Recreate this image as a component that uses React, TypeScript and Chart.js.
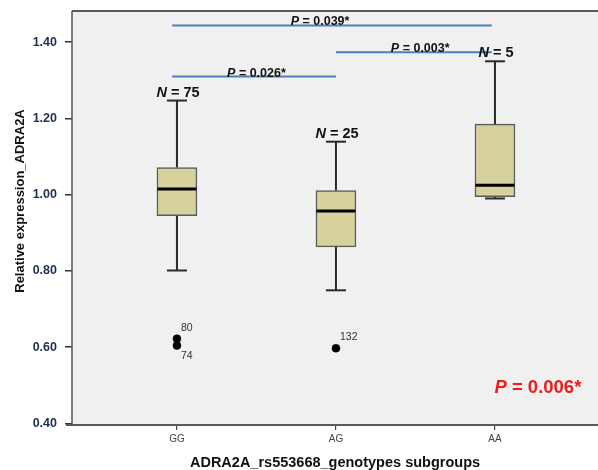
import React, { useEffect, useRef } from "react";
import { Chart, registerables } from "chart.js";

Chart.register(...registerables);

// ---- data ----
const categories = ["GG", "AG", "AA"];
const counts = [75, 25, 5];
const whiskerLow = [0.801, 0.749, 0.99];
const q1 = [0.945, 0.863, 0.995];
const median = [1.015, 0.957, 1.025];
const q3 = [1.071, 1.011, 1.185];
const whiskerHigh = [1.247, 1.139, 1.35];

const outlierGroup = [0, 0, 1];
const outlierValue = [0.622, 0.604, 0.597];
const outlierId = ["80", "74", "132"];
const outlierLabelAbove = [true, false, true];

const compareStart = [0.97, 2.0, 0.97];
const compareEnd = [2.0, 2.98, 2.98];
const compareY = [1.31, 1.374, 1.444];
const compareLabelX = [1.5, 2.53, 1.9];
const compareP = ["0.026*", "0.003*", "0.039*"];

const overallP = "0.006*";
const overallPos = { x: 3.27, y: 0.493 };

const yTicks = [0.4, 0.6, 0.8, 1.0, 1.2, 1.4];

const FONT = "'Liberation Sans', Arial, sans-serif";

function drawMixed(
  ctx: CanvasRenderingContext2D,
  parts: { text: string; italic: boolean }[],
  cx: number,
  y: number,
  size: number,
  color: string,
  baseline: CanvasTextBaseline
) {
  ctx.save();
  ctx.fillStyle = color;
  ctx.textBaseline = baseline;
  ctx.textAlign = "left";
  let total = 0;
  const widths = parts.map((p) => {
    ctx.font = `${p.italic ? "italic " : ""}bold ${size}px ${FONT}`;
    const w = ctx.measureText(p.text).width;
    total += w;
    return w;
  });
  let x = cx - total / 2;
  parts.forEach((p, i) => {
    ctx.font = `${p.italic ? "italic " : ""}bold ${size}px ${FONT}`;
    ctx.fillText(p.text, x, y);
    x += widths[i];
  });
  ctx.restore();
}

const decorPlugin = {
  id: "decor",
  beforeDraw(chart: any) {
    const { ctx, chartArea: a } = chart;
    ctx.save();
    ctx.fillStyle = "#f0f0f0";
    ctx.fillRect(a.left, a.top, a.right - a.left, a.bottom - a.top);
    ctx.restore();
  },
  afterDatasetsDraw(chart: any) {
    const { ctx } = chart;
    const xs = chart.scales.x;
    const ys = chart.scales.y;
    // N labels
    categories.forEach((_, i) => {
      const px = xs.getPixelForValue(i + 1);
      const py = ys.getPixelForValue(whiskerHigh[i]) - 4;
      drawMixed(
        ctx,
        [
          { text: "N", italic: true },
          { text: ` = ${counts[i]}`, italic: false },
        ],
        px + 1,
        py,
        14.5,
        "#111",
        "alphabetic"
      );
    });
    // comparison labels
    compareP.forEach((p, i) => {
      const px = xs.getPixelForValue(compareLabelX[i]);
      const py = ys.getPixelForValue(compareY[i]);
      drawMixed(
        ctx,
        [
          { text: "P", italic: true },
          { text: ` = ${p}`, italic: false },
        ],
        px,
        py,
        12.5,
        "#111",
        "alphabetic"
      );
    });
    // overall P
    drawMixed(
      ctx,
      [
        { text: "P", italic: true },
        { text: ` = ${overallP}`, italic: false },
      ],
      xs.getPixelForValue(overallPos.x),
      ys.getPixelForValue(overallPos.y),
      18.5,
      "#f21a1a",
      "middle"
    );
    // outlier ids
    ctx.save();
    ctx.font = `10.5px ${FONT}`;
    ctx.fillStyle = "#333";
    ctx.textAlign = "left";
    ctx.textBaseline = "middle";
    outlierId.forEach((id, i) => {
      const px = xs.getPixelForValue(outlierGroup[i] + 1);
      const py = ys.getPixelForValue(outlierValue[i]);
      ctx.fillText(id, px + 4, py + (outlierLabelAbove[i] ? -11 : 11));
    });
    ctx.restore();
    // y title
    ctx.save();
    ctx.translate(20, 201);
    ctx.rotate(-Math.PI / 2);
    ctx.font = `bold 13px ${FONT}`;
    ctx.fillStyle = "#111";
    ctx.textAlign = "center";
    ctx.textBaseline = "middle";
    ctx.fillText("Relative expression_ADRA2A", 0, 0);
    ctx.restore();
  },
  afterDraw(chart: any) {
    const { ctx, chartArea: a } = chart;
    ctx.save();
    ctx.strokeStyle = "#5a5a5a";
    ctx.lineWidth = 2;
    ctx.beginPath();
    ctx.moveTo(a.left, a.top);
    ctx.lineTo(a.right, a.top);
    ctx.moveTo(a.left - 6, a.bottom);
    ctx.lineTo(a.right, a.bottom);
    ctx.stroke();
    ctx.lineWidth = 1.5;
    ctx.strokeStyle = "#555";
    ctx.beginPath();
    ctx.moveTo(a.left, a.top);
    ctx.lineTo(a.left, a.bottom);
    ctx.stroke();
    ctx.restore();
  },
};

export default function App() {
  const ref = useRef<HTMLCanvasElement>(null);
  useEffect(() => {
    document.body.style.margin = "0";
    if (!ref.current) return;

    const whiskerPts: any[] = [];
    categories.forEach((_, i) => {
      whiskerPts.push({ x: i + 1, y: q3[i] }, { x: i + 1, y: whiskerHigh[i] }, { x: i + 1, y: null });
      whiskerPts.push({ x: i + 1, y: whiskerLow[i] }, { x: i + 1, y: q1[i] }, { x: i + 1, y: null });
    });
    const capPts: any[] = [];
    categories.forEach((_, i) => {
      capPts.push({ x: i + 1, y: whiskerHigh[i] }, { x: i + 1, y: whiskerLow[i] });
    });
    const compPts: any[] = [];
    compareY.forEach((y, i) => {
      compPts.push({ x: compareStart[i], y }, { x: compareEnd[i], y }, { x: compareEnd[i], y: null });
    });

    const chart = new Chart(ref.current, {
      type: "bar",
      data: {
        datasets: [
          {
            type: "scatter",
            data: median.map((m, i) => ({ x: i + 1, y: m })),
            pointStyle: "line",
            pointRadius: 19.5,
            pointBorderWidth: 3,
            pointBorderColor: "#000",
            borderColor: "#000",
          } as any,
          {
            type: "scatter",
            data: capPts,
            pointStyle: "line",
            pointRadius: 10,
            pointBorderWidth: 2,
            pointBorderColor: "#2a2a2a",
            borderColor: "#2a2a2a",
          } as any,
          {
            type: "scatter",
            data: outlierValue.map((v, i) => ({ x: outlierGroup[i] + 1, y: v })),
            pointStyle: "circle",
            pointRadius: 4,
            pointBackgroundColor: "#000",
            pointBorderColor: "#000",
            pointBorderWidth: 0.5,
          } as any,
          {
            type: "line",
            data: compPts,
            borderColor: "#4a7ebb",
            borderWidth: 2,
            pointRadius: 0,
            spanGaps: false,
          } as any,
          {
            type: "bar",
            data: categories.map((_, i) => ({ x: i + 1, y: [q1[i], q3[i]] })),
            backgroundColor: "#d6d19d",
            borderColor: "#5a5a5a",
            borderWidth: 1.5,
            borderSkipped: false,
            barThickness: 40,
          } as any,
          {
            type: "line",
            data: whiskerPts,
            borderColor: "#2a2a2a",
            borderWidth: 2,
            pointRadius: 0,
            spanGaps: false,
          } as any,
        ],
      },
      options: {
        animation: false,
        responsive: true,
        maintainAspectRatio: false,
        layout: { autoPadding: false, padding: { top: 11, left: 0, right: 0, bottom: 0 } },
        plugins: {
          legend: { display: false },
          tooltip: { enabled: false },
        },
        scales: {
          x: {
            type: "linear",
            min: 0.34,
            max: 3.648,
            offset: false,
            afterBuildTicks: (s: any) => {
              s.ticks = categories.map((_, i) => ({ value: i + 1 }));
            },
            afterFit: (s: any) => {
              s.height = 45;
              s.paddingLeft = 0;
              s.paddingRight = 0;
            },
            ticks: {
              callback: (v: any) => categories[Math.round(Number(v)) - 1] ?? "",
              font: { family: FONT, size: 10 },
              color: "#444",
              padding: 3,
              autoSkip: false,
              maxRotation: 0,
            },
            grid: {
              offset: false,
              drawOnChartArea: false,
              drawTicks: true,
              tickLength: 5,
              color: "#444",
              lineWidth: 1.2,
            },
            border: { display: false },
            title: {
              display: true,
              text: "ADRA2A_rs553668_genotypes subgroups",
              font: { family: FONT, size: 14.5, weight: "bold" },
              color: "#111",
              padding: { top: 0, bottom: -2 },
            },
          },
          y: {
            type: "linear",
            min: 0.3955,
            max: 1.482,
            afterBuildTicks: (s: any) => {
              s.ticks = yTicks.map((v) => ({ value: v }));
            },
            afterFit: (s: any) => {
              s.width = 72;
              s.paddingTop = 0;
              s.paddingBottom = 0;
            },
            ticks: {
              callback: (v: any) => Number(v).toFixed(2),
              font: { family: FONT, size: 12.5, weight: "bold" },
              color: "#1f2d50",
              padding: 8,
            },
            grid: {
              drawOnChartArea: false,
              drawTicks: true,
              tickLength: 7,
              color: "#333",
              lineWidth: 1.5,
            },
            border: { display: false },
          },
        },
      } as any,
      plugins: [decorPlugin],
    });
    return () => chart.destroy();
  }, []);

  return (
    <div style={{ width: 598, height: 470, position: "relative", background: "#fff" }}>
      <canvas ref={ref} />
    </div>
  );
}
